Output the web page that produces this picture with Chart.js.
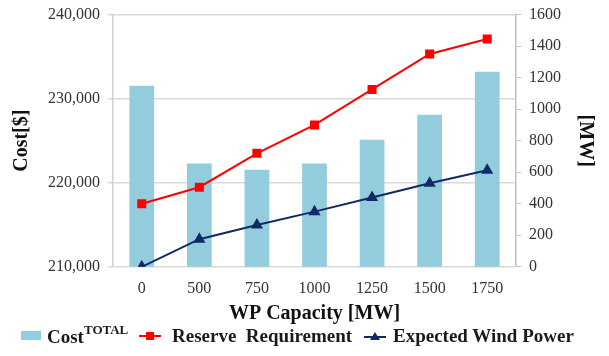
<!DOCTYPE html>
<html>
<head>
<meta charset="utf-8">
<script src="https://cdn.jsdelivr.net/npm/chart.js@4.4.1/dist/chart.umd.min.js"></script>
<style>
  body { margin: 0; background: #fff; overflow: hidden; }
  #wrap { position: relative; width: 609px; height: 356px; overflow: hidden; }
  #chart { position: absolute; left: 0; top: -3px; }
  #legend { position: absolute; left: 0; top: 322px; width: 609px; height: 28px;
    font-family: 'Liberation Serif', serif; font-weight: bold; font-size: 19px; color: #1a1a1a; }
  #legend .item { position: absolute; top: 0; height: 28px; display: flex; align-items: center; white-space: nowrap; }
  #legend sup { font-size: 13px; position: relative; top: -2px; }
</style>
</head>
<body>
<div id="wrap">
  <canvas id="chart" width="609" height="329"></canvas>
  <div id="legend">
    <div class="item" style="left:21px">
      <svg width="20" height="10" style="margin-right:6px"><rect x="0" y="0" width="20" height="9" fill="#93cddd"/></svg>
      <span>Cost<sup>TOTAL</sup></span>
    </div>
    <div class="item" style="left:139px">
      <svg width="22" height="10" style="margin-right:11px"><line x1="0" y1="5" x2="22" y2="5" stroke="#ff0000" stroke-width="2"/><rect x="7" y="1" width="8" height="8" fill="#ff0000"/></svg>
      <span>Reserve&nbsp; Requirement</span>
    </div>
    <div class="item" style="left:364px">
      <svg width="22" height="10" style="margin-right:7px"><line x1="0" y1="6" x2="22" y2="6" stroke="#0f2a66" stroke-width="2"/><polygon points="11,1 16,9 6,9" fill="#0f2a66"/></svg>
      <span>Expected Wind Power</span>
    </div>
  </div>
</div>
<script>
const categories = ['0', '500', '750', '1000', '1250', '1500', '1750'];
const costTotal = [231550, 222300, 221550, 222300, 225100, 228100, 233200];
const reserveRequirement = [400, 505, 720, 900, 1125, 1350, 1445];
const expectedWindPower = [0, 175, 265, 350, 440, 530, 612];
const costTicks = [210000, 220000, 230000, 240000];

const serif = 'Liberation Serif';
const tickFont = { family: serif, size: 16 };
const titleFont = { family: serif, size: 20, weight: 'bold' };

new Chart(document.getElementById('chart'), {
  type: 'bar',
  data: {
    labels: categories,
    datasets: [
      {
        type: 'line',
        label: 'Reserve Requirement',
        data: reserveRequirement,
        yAxisID: 'y1',
        borderColor: '#ff0000',
        backgroundColor: '#ff0000',
        borderWidth: 2,
        pointStyle: 'rect',
        pointRadius: 5,
        order: 0,
      },
      {
        type: 'line',
        label: 'Expected Wind Power',
        data: expectedWindPower,
        yAxisID: 'y1',
        borderColor: '#0f2a66',
        backgroundColor: '#0f2a66',
        borderWidth: 2,
        pointStyle: 'triangle',
        pointRadius: 5,
        order: 0,
      },
      {
        label: 'Cost TOTAL',
        data: costTotal,
        yAxisID: 'y',
        backgroundColor: '#93cddd',
        categoryPercentage: 1,
        barPercentage: 0.43,
        order: 1,
      },
    ],
  },
  options: {
    responsive: false,
    animation: false,
    layout: { padding: { top: 0, left: 6, right: 6, bottom: 0 } },
    plugins: {
      legend: { display: false },
      tooltip: { enabled: false },
    },
    scales: {
      x: {
        grid: { display: false },
        border: { display: false },
        ticks: { font: tickFont, color: '#333', padding: 4 },
        title: { display: true, text: 'WP Capacity [MW]', font: titleFont, color: '#111', padding: { top: 0, bottom: 0 } },
      },
      y: {
        position: 'left',
        min: costTicks[0],
        max: costTicks[costTicks.length - 1],
        afterBuildTicks: (axis) => { axis.ticks = costTicks.map((v) => ({ value: v })); },
        ticks: {
          font: tickFont,
          color: '#333',
          padding: 8,
          callback: (v) => v.toLocaleString('en-US'),
        },
        grid: { color: '#d9d9d9', tickLength: 5, lineWidth: 1.5 },
        border: { color: '#d0d0d0', width: 1.5 },
        title: { display: true, text: 'Cost[$]', font: titleFont, color: '#111', padding: { bottom: 6 } },
      },
      y1: {
        position: 'right',
        min: 0,
        max: 1600,
        ticks: { stepSize: 200, font: tickFont, color: '#333', padding: 8, callback: (v) => String(v) },
        grid: { drawOnChartArea: false, color: '#bfbfbf', tickLength: 5 },
        border: { color: '#bfbfbf', width: 1.5 },
        title: { display: true, text: '[MW]', font: titleFont, color: '#111', padding: { top: 6 } },
      },
    },
  },
});
</script>
</body>
</html>
